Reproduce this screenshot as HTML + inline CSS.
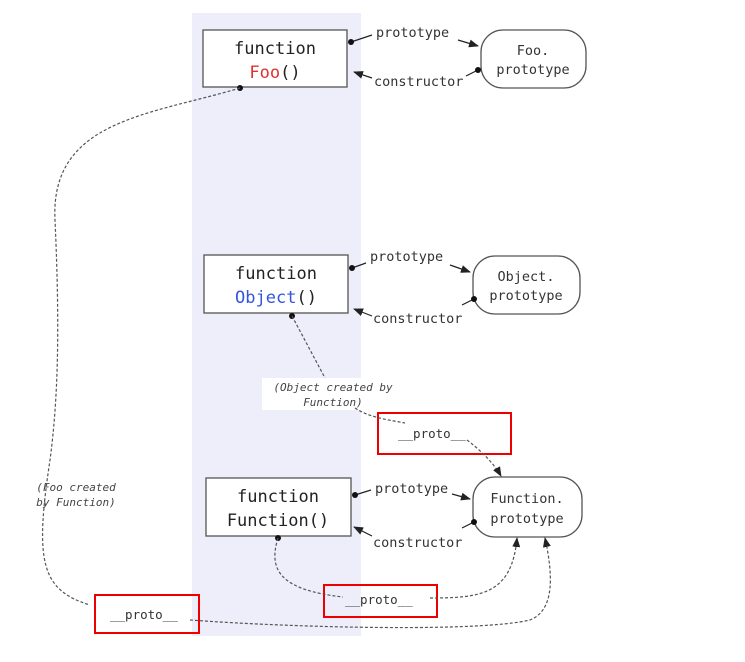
<!DOCTYPE html>
<html><head><meta charset="utf-8"><style>
body{margin:0;background:#fff;width:745px;height:657px;overflow:hidden}
svg{font-family:"DejaVu Sans Mono","Liberation Mono",monospace}
</style></head><body>
<svg width="745" height="657" viewBox="0 0 745 657">
<defs><marker id="a" markerWidth="10" markerHeight="8" refX="9" refY="4" orient="auto" markerUnits="userSpaceOnUse"><path d="M0,0L10,4L0,8z" fill="#222"/></marker></defs>
<rect x="192" y="13" width="169" height="623" fill="#eeeefa"/>
<g fill="#fff" stroke="#555" stroke-width="1.3">
<rect x="203" y="30" width="144" height="57"/>
<rect x="204" y="255" width="144" height="58"/>
<rect x="206" y="478" width="145" height="58"/>
<rect x="481" y="30" width="105" height="58" rx="22"/>
<rect x="473" y="256" width="107" height="58" rx="22"/>
<rect x="473" y="477" width="109" height="60" rx="22"/>
</g>
<g fill="none" stroke="#e00" stroke-width="2">
<rect x="378" y="413" width="133" height="41"/>
<rect x="324" y="585" width="113" height="32"/>
<rect x="95" y="595" width="104" height="38"/>
</g>
<g font-size="17" fill="#222" text-anchor="middle">
<text x="275" y="54">function</text><text x="275" y="78"><tspan fill="#e03030">Foo</tspan>()</text>
<text x="276" y="279">function</text><text x="276" y="303"><tspan fill="#3355dd">Object</tspan>()</text>
<text x="278" y="502">function</text><text x="278" y="526">Function()</text>
</g>
<g font-size="13.5" fill="#333" text-anchor="middle">
<text x="533" y="55">Foo.</text><text x="533" y="74">prototype</text>
<text x="526" y="281">Object.</text><text x="526" y="300">prototype</text>
<text x="527" y="503">Function.</text><text x="527" y="523">prototype</text>
</g>
<g font-size="13.5" fill="#333">
<text x="376" y="37">prototype</text><text x="374" y="86">constructor</text>
<text x="370" y="261">prototype</text><text x="373" y="323">constructor</text>
<text x="375" y="493">prototype</text><text x="373" y="547">constructor</text>
</g>
<g font-size="12.5" fill="#333">
<text x="398" y="438">__proto__</text>
<text x="345" y="604">__proto__</text>
<text x="110" y="619">__proto__</text>
</g>
<rect x="262" y="378" width="142" height="32" fill="#fff"/>
<g font-size="11" fill="#444" font-style="italic" text-anchor="middle">
<text x="333" y="391">(Object created by</text><text x="333" y="406">Function)</text>
<text x="76" y="491">(Foo created</text><text x="76" y="506">by Function)</text>
</g>
<g stroke="#222" stroke-width="1.2" fill="none">
<path d="M351,42L372,35"/><path d="M458,40L478,46" marker-end="url(#a)"/>
<path d="M466,76L478,70"/><path d="M372,78L354,72" marker-end="url(#a)"/>
<path d="M352,268L366,263"/><path d="M450,265L470,272" marker-end="url(#a)"/>
<path d="M462,305L474,299"/><path d="M372,316L354,309" marker-end="url(#a)"/>
<path d="M355,495L371,490"/><path d="M452,494L470,499" marker-end="url(#a)"/>
<path d="M462,528L474,522"/><path d="M372,536L354,527" marker-end="url(#a)"/>
</g>
<g fill="#111">
<circle cx="351" cy="42" r="3"/><circle cx="478" cy="70" r="3"/>
<circle cx="352" cy="268" r="3"/><circle cx="474" cy="299" r="3"/>
<circle cx="355" cy="495" r="3"/><circle cx="474" cy="522" r="3"/>
<circle cx="240" cy="88" r="3"/><circle cx="292" cy="316" r="3"/><circle cx="278" cy="538" r="3"/>
</g>
<g stroke="#555" stroke-width="1.2" fill="none" stroke-dasharray="3,2">
<path d="M240,88C150,115 50,120 55,220C60,330 58,400 50,460C35,560 40,590 90,605"/>
<path d="M292,316L325,378"/>
<path d="M355,408C370,418 390,420 405,423"/>
<path d="M467,440C480,450 493,462 501,476" marker-end="url(#a)"/>
<path d="M278,538C268,570 280,590 343,597"/>
<path d="M430,598C480,598 512,595 517,538" marker-end="url(#a)"/>
<path d="M190,620C300,628 480,632 530,620C555,610 553,575 545,538" marker-end="url(#a)"/>
</g>
</svg>
</body></html>
